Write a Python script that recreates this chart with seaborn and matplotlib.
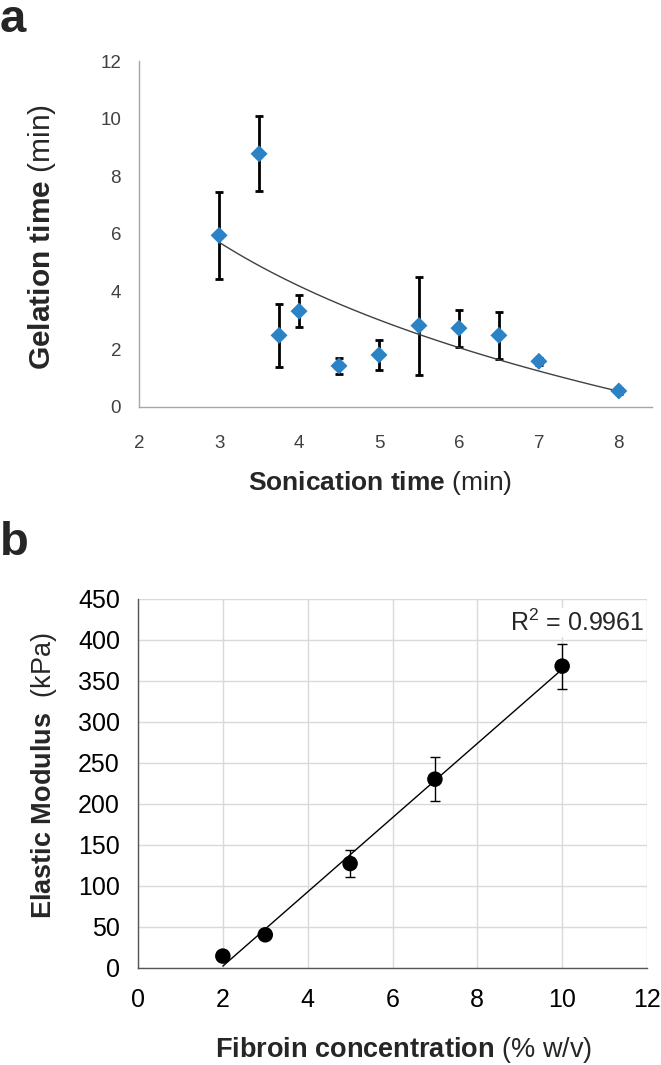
import numpy as np
import pandas as pd
import matplotlib
matplotlib.use("Agg")
import matplotlib.pyplot as plt
import seaborn as sns

# --- panel a : gelation time vs sonication time
sonication_min = [3, 3.5, 3.75, 4, 4.5, 5, 5.5, 6, 6.5, 7, 8]
gelation_min = [5.95, 8.78, 2.48, 3.32, 1.42, 1.8, 2.82, 2.73, 2.48, 1.58, 0.55]
gelation_err = [1.5, 1.3, 1.1, 0.56, 0.29, 0.52, 1.7, 0.64, 0.82, 0.12, 0.1]

# --- panel b : elastic modulus vs fibroin concentration
fibroin_pct = [2, 3, 5, 7, 10]
modulus_kpa = [14, 40, 127, 230, 368]
modulus_err = [0, 0, 17, 27, 27.5]
r2_label = "R$^2$ = 0.9961"

a_xticks = [2, 3, 4, 5, 6, 7, 8]
a_yticks = [0, 2, 4, 6, 8, 10, 12]
b_xticks = [0, 2, 4, 6, 8, 10, 12]
b_yticks = list(range(0, 451, 50))

sns.set_theme(style="white")
plt.rcParams["font.family"] = ["Liberation Sans", "DejaVu Sans"]
plt.rcParams["mathtext.fontset"] = "custom"
plt.rcParams["mathtext.rm"] = "Liberation Sans"
plt.rcParams["mathtext.bf"] = "Liberation Sans:bold"
plt.rcParams["mathtext.it"] = "Liberation Sans:italic"

fig = plt.figure(figsize=(6.61, 10.65), dpi=100)

# ---------------- panel a
ax1 = fig.add_axes([0.2105, 0.618, 0.7765, 0.3247])
df_a = pd.DataFrame({"x": sonication_min, "y": gelation_min, "e": gelation_err})
ax1.errorbar(df_a["x"], df_a["y"], yerr=df_a["e"], fmt="none", ecolor="black",
             elinewidth=2, capsize=2.6, capthick=2, zorder=2)
# logarithmic trendline fitted to the data
coef = np.polyfit(np.log(df_a["x"]), df_a["y"], 1)
xs = np.linspace(min(sonication_min), max(sonication_min), 100)
sns.lineplot(x=xs, y=coef[0] * np.log(xs) + coef[1], ax=ax1, color="#404040",
             linewidth=1, zorder=3)
sns.scatterplot(data=df_a, x="x", y="y", ax=ax1, marker="D", s=75,
                color="#2b82c4", edgecolor="none", zorder=4)
ax1.set_xlim(2, 8.42)
ax1.set_ylim(0, 12)
ax1.set_xticks(a_xticks)
ax1.set_yticks(a_yticks)
ax1.set_xlabel("")
ax1.set_ylabel("")
for s in ["top", "right"]:
    ax1.spines[s].set_visible(False)
for s in ["left", "bottom"]:
    ax1.spines[s].set_color("#a6a6a6")
    ax1.spines[s].set_linewidth(1)
ax1.tick_params(axis="both", direction="out", color="#a6a6a6", width=1,
                labelcolor="#404040", labelsize=13.5)
ax1.tick_params(axis="x", length=6, pad=14)
ax1.tick_params(axis="y", length=5, pad=8)

fig.text(0.0, 0.970, "a", fontsize=34, fontweight="bold", ha="left", va="baseline")
fig.text(0.063, 0.777, r"$\mathbf{Gelation\ time}$ (min)", rotation=90,
         ha="center", va="center", fontsize=21.5)
fig.text(0.575, 0.5465, r"$\mathbf{Sonication\ time}$ (min)",
         ha="center", va="center", fontsize=19)

# ---------------- panel b
ax2 = fig.add_axes([0.2088, 0.0915, 0.77, 0.3461])
df_b = pd.DataFrame({"x": fibroin_pct, "y": modulus_kpa, "e": modulus_err})
ax2.grid(True, color="#d9d9d9", linewidth=1)
ax2.set_axisbelow(True)
err_mask = df_b["e"] > 0
ax2.errorbar(df_b["x"][err_mask], df_b["y"][err_mask], yerr=df_b["e"][err_mask],
             fmt="none", ecolor="black", elinewidth=1, capsize=3.6, capthick=1, zorder=2)
lin = np.polyfit(df_b["x"], df_b["y"], 1)
xl = np.array([min(fibroin_pct), max(fibroin_pct)], dtype=float)
sns.lineplot(x=xl, y=lin[0] * xl + lin[1], ax=ax2, color="black", linewidth=1, zorder=3)
sns.scatterplot(data=df_b, x="x", y="y", ax=ax2, marker="o", s=125,
                color="black", edgecolor="none", zorder=4)
ax2.set_xlim(0, 12)
ax2.set_ylim(0, 450)
ax2.set_xticks(b_xticks)
ax2.set_yticks(b_yticks)
ax2.set_xlabel("")
ax2.set_ylabel("")
for s in ["top", "right"]:
    ax2.spines[s].set_visible(False)
for s in ["left", "bottom"]:
    ax2.spines[s].set_color("#555555")
    ax2.spines[s].set_linewidth(1)
ax2.tick_params(axis="both", direction="out", color="#555555", width=1,
                labelsize=18, labelcolor="black")
ax2.tick_params(axis="x", length=5, pad=10)
ax2.tick_params(axis="y", length=5, pad=8)
ax2.text(11.95, 421, r2_label, ha="right", va="center", fontsize=18,
         bbox=dict(facecolor="white", edgecolor="none", pad=1))

fig.text(0.0, 0.479, "b", fontsize=34, fontweight="bold", ha="left", va="baseline")
fig.text(0.067, 0.272, r"$\mathbf{Elastic\ Modulus}$  (kPa)", rotation=90,
         ha="center", va="center", fontsize=19.5)
fig.text(0.61, 0.0145, r"$\mathbf{Fibroin\ concentration}$ (% w/v)",
         ha="center", va="center", fontsize=19.5)

fig.savefig("out.png", dpi=100)
